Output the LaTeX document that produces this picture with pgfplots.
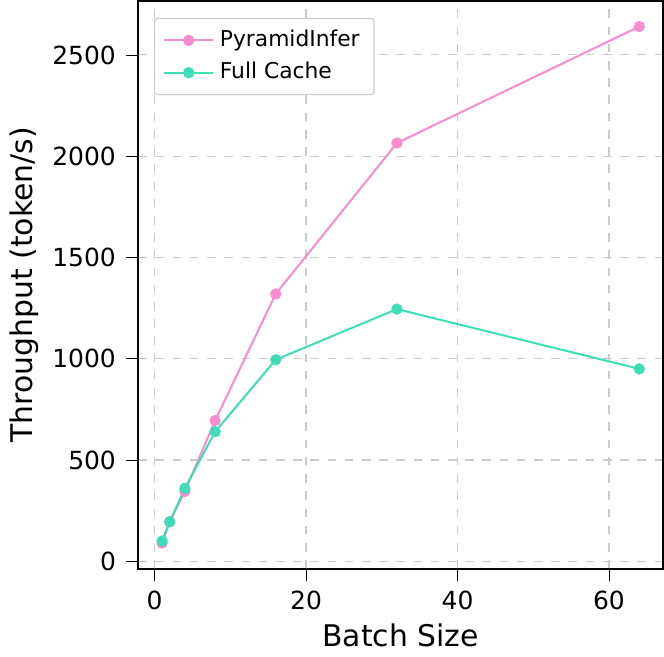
\documentclass[border=0pt]{standalone}
\usepackage{pgfplots}
\pgfplotsset{compat=1.18}
\usepackage{fontspec}
\setmainfont{DejaVu Sans}
\definecolor{pk}{HTML}{F98BCF}
\definecolor{tq}{HTML}{3EDDB8}
\begin{document}
\begin{tikzpicture}
\begin{axis}[
  width=183pt, height=198pt, scale only axis,
  xmin=-2.15, xmax=67.15, ymin=-37, ymax=2767,
  xtick={0,20,40,60}, ytick={0,500,1000,1500,2000,2500},
  /pgf/number format/assume math mode=true,
  /pgf/number format/1000 sep={},
  tick label style={font=\fontsize{8.7}{10}\selectfont},
  label style={font=\fontsize{10.4}{12}\selectfont},
  xlabel={Batch Size}, ylabel={Throughput (token/s)},
  xlabel style={yshift=2pt}, ylabel style={yshift=-2pt},
  grid=major, grid style={dashed, gray!40},
  axis line style={black, line width=0.6pt},
  tick style={black}, tick align=outside, xtick pos=bottom, ytick pos=left,
  legend pos=north west,
  legend style={font=\fontsize{7.6}{9}\selectfont, draw=gray!40, rounded corners=1pt},
  legend cell align=left,
]
\addplot[pk, line width=0.7pt, mark=*, mark size=1.6pt] coordinates {(1,90)(2,195)(4,345)(8,695)(16,1320)(32,2065)(64,2640)};
\addlegendentry{PyramidInfer}
\addplot[tq, line width=0.7pt, mark=*, mark size=1.6pt] coordinates {(1,100)(2,195)(4,360)(8,640)(16,995)(32,1245)(64,950)};
\addlegendentry{Full Cache}
\end{axis}
\end{tikzpicture}
\end{document}
